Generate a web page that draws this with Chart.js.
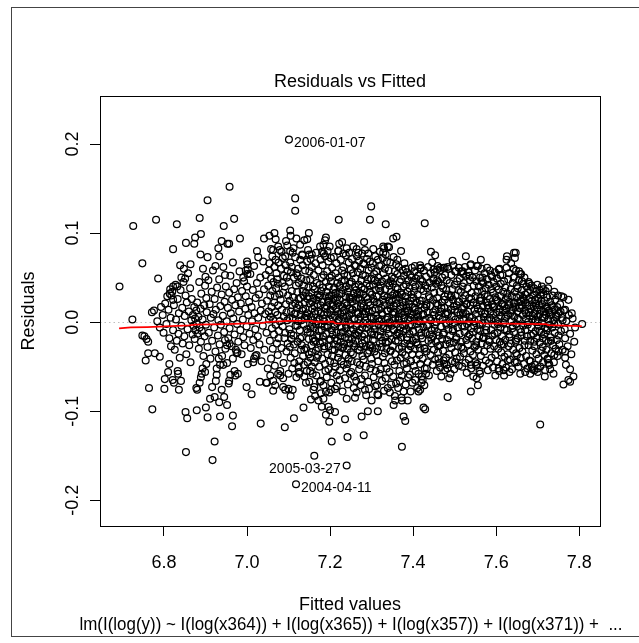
<!DOCTYPE html>
<html>
<head>
<meta charset="utf-8">
<script src="https://cdn.jsdelivr.net/npm/chart.js@4.4.1/dist/chart.umd.min.js"></script>
<style>
  html, body { margin: 0; padding: 0; background: #fff; }
  #wrap { width: 639px; height: 643px; }
</style>
</head>
<body>
<div id="wrap"><canvas id="chart" width="639" height="643"></canvas></div>
<script>
// axis setup
const xTicks = [6.8, 7.0, 7.2, 7.4, 7.6, 7.8];
const yTicks = [-0.2, -0.1, 0.0, 0.1, 0.2];
const xRange = [6.646, 7.85];
const yRange = [-0.229, 0.254];

// labelled observations
const labelNames = ["2006-01-07", "2005-03-27", "2004-04-11"];
const labelFitted = [7.101, 7.240, 7.118];
const labelResid = [0.205, -0.161, -0.182];
const labelSide = ["right", "left", "right"];

// red smoother
const lowessFitted = [6.692, 6.72, 6.76, 6.86, 6.875, 6.95, 7.04, 7.045, 7.10, 7.155, 7.16, 7.208, 7.212, 7.28, 7.39, 7.40, 7.56, 7.565, 7.72, 7.726, 7.806];
const lowessResid = [-0.007, -0.006, -0.0055, -0.0037, -0.0027, -0.0022, -0.0008, 0.0, 0.0015, 0.0015, 0.0004, 0.0004, -0.0015, -0.002, -0.0015, 0.0004, 0.0004, -0.0015, -0.0022, -0.0034, -0.0045];

// [fitted, residual] pairs
const upperPoints = [
[6.693,0.040],[6.726,0.108],[6.748,0.066],[6.781,0.115],[6.786,0.049],[6.724,0.003],[6.822,0.082],[6.831,0.110],[6.853,0.089],[6.873,0.088],[6.875,0.095],[6.886,0.117],[6.889,0.099],[6.905,0.137],[6.958,0.152],[6.944,0.108],[6.969,0.116],[6.983,0.094],[6.939,0.091],[6.953,0.088],[6.957,0.088],[7.041,0.094],[6.864,0.065],[6.888,0.076],[6.905,0.073],[6.839,0.064],[6.848,0.060],[6.931,0.083],[6.933,0.074],[6.924,0.063],[6.966,0.067],[6.900,0.051],[6.947,0.053],[6.842,0.050],[6.851,0.049],[7.024,0.080],[7.027,0.073],[7.000,0.068],[7.001,0.065],[7.002,0.059],[7.001,0.054],[6.997,0.058],[6.991,0.050],[6.815,0.037],[6.822,0.040],[6.832,0.040],[6.814,0.032],[6.818,0.030],[6.822,0.025],
[7.116,0.139],[7.116,0.125],[7.104,0.103],[7.221,0.115],[7.299,0.130],[7.296,0.115],[7.334,0.110],[7.360,0.096],[7.428,0.111],[7.066,0.100],[7.054,0.097],[7.069,0.093],[7.105,0.097],[7.149,0.100],[7.145,0.093],[7.138,0.092],[7.119,0.094],[7.094,0.091],[7.075,0.085],[7.058,0.082],[7.063,0.081],[7.104,0.080],[7.190,0.095],[7.188,0.092],[7.199,0.085],[7.229,0.090],[7.181,0.079],[7.185,0.077],[7.220,0.080],[7.232,0.077],[7.282,0.090],[7.264,0.082],[7.268,0.078],[7.352,0.094],[7.339,0.085],[7.330,0.083],[7.328,0.078],[7.371,0.080],[7.417,0.064],[7.419,0.061],[7.443,0.079],[7.453,0.075],[7.202,0.072],[7.133,0.075],[7.150,0.076],[7.156,0.076],
[7.495,0.069],[7.527,0.074],[7.538,0.064],[7.553,0.063],[7.563,0.070],[7.578,0.061],[7.606,0.059],[7.610,0.053],[7.588,0.053],[7.567,0.050],[7.565,0.046],[7.625,0.070],[7.626,0.074],[7.643,0.078],[7.647,0.078],[7.645,0.072],[7.642,0.060],[7.655,0.057],[7.658,0.054],[7.662,0.046],[7.680,0.043],[7.727,0.047],[7.714,0.037],[7.708,0.033],[7.740,0.034],[7.749,0.030],[7.757,0.029],[7.762,0.028],[7.774,0.025],[7.766,0.014],[7.782,0.010],[7.449,0.059],[7.458,0.059],[7.465,0.061],[7.476,0.061],[7.483,0.062],[7.501,0.057],[7.519,0.057],[7.521,0.054],[7.536,0.052],[7.449,0.049],[7.458,0.047],[7.807,-0.002]
];

const lowerPoints = [
[6.748,-0.015],[6.753,-0.016],[6.758,-0.019],[6.762,-0.022],[6.756,-0.043],[6.764,-0.074],[6.772,-0.098],[6.762,-0.035],[6.778,-0.035],[6.790,-0.039],[6.801,-0.075],[6.802,-0.064],[6.810,-0.056],[6.813,-0.047],[6.821,-0.065],[6.824,-0.068],[6.834,-0.058],[6.836,-0.076],[6.841,-0.066],[6.833,-0.055],[6.852,-0.101],[6.856,-0.108],[6.853,-0.146],[6.879,-0.099],[6.901,-0.096],[6.905,-0.107],[6.878,-0.074],[6.880,-0.076],[6.886,-0.068],[6.889,-0.062],[6.891,-0.058],[6.893,-0.052],[6.899,-0.056],[6.902,-0.047],
[6.911,-0.086],[6.922,-0.084],[6.933,-0.090],[6.939,-0.076],[6.945,-0.084],[6.952,-0.093],[6.916,-0.073],[6.925,-0.066],[6.927,-0.059],[6.935,-0.048],[6.943,-0.048],[6.932,-0.041],[6.922,-0.134],[6.917,-0.155],[6.935,-0.106],[6.966,-0.105],[6.964,-0.117],[6.956,-0.069],[6.957,-0.066],[6.960,-0.059],[6.970,-0.055],[6.978,-0.058],[6.972,-0.060],[6.999,-0.073],[7.011,-0.081],[7.033,-0.114],[7.031,-0.067],[7.046,-0.068],[7.015,-0.045],[7.017,-0.041],[7.020,-0.038],[6.975,-0.035],[6.977,-0.034],[6.952,-0.026],[6.958,-0.024],[6.947,-0.020],
[7.162,-0.150],[7.204,-0.134],[7.242,-0.129],[7.281,-0.127],[7.373,-0.140],[7.091,-0.118],[7.113,-0.108],[7.136,-0.096],[7.198,-0.112],[7.190,-0.104],[7.212,-0.101],[7.236,-0.109],[7.276,-0.106],[7.291,-0.100],[7.315,-0.100],[7.377,-0.106],[7.381,-0.111],[7.425,-0.096],[7.429,-0.098],[7.063,-0.077],[7.087,-0.073],[7.105,-0.083],[7.110,-0.076],[7.154,-0.087],[7.164,-0.083],[7.172,-0.088],[7.184,-0.086],[7.180,-0.095],[7.196,-0.095],[7.200,-0.099],[7.142,-0.068],[7.150,-0.067],[7.160,-0.076],[7.178,-0.080],[7.190,-0.078],[7.212,-0.075],[7.240,-0.086],[7.260,-0.085],[7.284,-0.076],[7.300,-0.088],[7.316,-0.082],[7.353,-0.093],[7.357,-0.088],[7.373,-0.088],[7.417,-0.076],[7.427,-0.071],[7.423,-0.065],[7.421,-0.061],[7.431,-0.058],[7.433,-0.052],[7.413,-0.078],[7.048,-0.068],[7.068,-0.071],[7.080,-0.060],[7.075,-0.058],[7.092,-0.076],[7.100,-0.075],[7.126,-0.058],[7.124,-0.050],[7.152,-0.055],[7.156,-0.050],[7.176,-0.067],
[7.706,-0.115],[7.483,-0.084],[7.539,-0.078],[7.556,-0.071],[7.553,-0.063],[7.561,-0.058],[7.552,-0.049],[7.539,-0.048],[7.487,-0.063],[7.477,-0.054],[7.465,-0.051],[7.481,-0.048],[7.473,-0.043],[7.461,-0.041],[7.501,-0.045],[7.598,-0.060],[7.606,-0.052],[7.619,-0.060],[7.618,-0.054],[7.632,-0.056],[7.628,-0.043],[7.650,-0.045],[7.648,-0.035],[7.658,-0.058],[7.670,-0.056],[7.682,-0.058],[7.692,-0.054],[7.700,-0.052],[7.686,-0.050],[7.717,-0.061],[7.730,-0.053],[7.738,-0.058],[7.726,-0.046],[7.724,-0.041],[7.740,-0.037],[7.750,-0.033],[7.766,-0.033],[7.766,-0.040],[7.768,-0.048],[7.778,-0.053],[7.786,-0.061],[7.778,-0.067],[7.762,-0.070],[7.774,-0.065]
];

const leftPoints = [
[6.771,0.011],[6.776,0.013],[6.784,0.001],[6.790,-0.006],[6.793,0.017],[6.797,0.008],[6.799,-0.012],[6.803,0.021],[6.806,-0.002],[6.808,0.029],[6.811,0.014],[6.813,-0.018],[6.816,0.005],[6.817,-0.027],[6.820,0.034],[6.822,-0.009],[6.824,0.019],[6.826,-0.031],[6.828,0.042],[6.829,0.003],[6.831,-0.021],[6.833,0.026],[6.835,-0.013],[6.836,0.010],[6.838,-0.040],[6.840,0.036],[6.842,-0.004],[6.844,0.016],[6.845,-0.024],[6.847,0.045],[6.849,-0.016],[6.850,0.007],[6.852,0.030],[6.854,-0.036],[6.855,0.022],[6.857,-0.008],[6.858,0.055],[6.860,0.012],[6.861,-0.026],[6.863,0.038],[6.864,-0.045],[6.866,0.002],[6.867,0.026],[6.869,-0.014],[6.870,0.008],[6.871,-0.004],[6.873,0.017],[6.874,-0.019],[6.875,0.004],[6.876,-0.009],[6.878,0.013],[6.879,-0.002],[6.880,0.022],[6.881,-0.013],[6.883,0.006],[6.884,-0.030],[6.885,0.045],[6.886,-0.006],[6.888,0.015],[6.889,-0.022],[6.890,0.032],[6.891,-0.010],[6.893,0.003],[6.894,0.060],[6.895,-0.038],[6.897,0.019],[6.898,-0.016],[6.899,0.041],[6.901,-0.003],[6.902,0.027],
[6.903,0.011],[6.905,-0.028],[6.907,0.047],[6.908,-0.012],[6.910,0.020],[6.912,-0.041],[6.913,0.005],[6.915,0.034],[6.916,-0.021],[6.918,0.058],[6.919,0.009],[6.921,-0.006],[6.922,0.026],[6.924,-0.033],[6.925,0.014],[6.927,-0.052],[6.928,0.039],[6.930,-0.015],[6.931,0.002],[6.933,0.048],[6.934,-0.025],[6.936,0.018],[6.937,-0.003],[6.939,0.031],[6.940,-0.038],[6.942,0.007],[6.943,0.062],[6.945,-0.011],[6.946,0.023],[6.948,-0.030],[6.949,0.040],[6.951,0.001],[6.952,-0.046],[6.954,0.016],[6.955,-0.018],[6.957,0.033],[6.958,-0.007],[6.960,0.052],[6.961,0.010],[6.963,-0.027],[6.964,0.025],[6.966,-0.041],[6.967,0.004],[6.969,0.037],[6.970,-0.014],[6.972,0.019],[6.973,-0.031],[6.975,0.044],[6.976,-0.002],[6.978,0.028],[6.979,-0.022],[6.981,0.012],[6.982,0.057],[6.984,-0.009],[6.985,0.021],[6.987,-0.036],[6.988,0.035],[6.990,0.003],[6.991,-0.017],[6.993,0.046],[6.994,-0.026],[6.996,0.015],[6.997,0.029],[6.999,-0.005],[7.000,0.040],[7.002,-0.047],[7.003,0.008],[7.005,0.023],[7.006,-0.013],[7.008,0.054],[7.009,-0.029],[7.011,0.017],[7.012,0.001],[7.014,0.036],[7.015,-0.020],[7.017,0.063],[7.018,0.010],[7.020,-0.008],[7.021,0.027],[7.023,-0.037],[7.024,0.044],[7.026,-0.016],[7.027,0.005],[7.029,0.031],[7.030,-0.025],[7.032,0.050],[7.033,0.013],[7.035,-0.044],[7.036,0.021],[7.038,-0.004],[7.039,0.068],[7.041,0.037],[7.042,-0.031],[7.044,0.009],[7.045,0.053],[7.047,-0.012],[7.048,0.024],[7.050,-0.052],[7.051,0.041],[7.053,0.003]
];

const risePoints = [
[7.054,0.066],[7.055,-0.021],[7.056,0.030],[7.057,0.006],[7.058,-0.041],[7.058,0.049],[7.059,0.017],[7.060,-0.007],[7.061,0.074],[7.056,-0.060],[7.052,0.012],[7.053,0.058],
[7.061,0.035],[7.062,-0.030],[7.063,0.003],[7.064,0.045],[7.065,-0.014],[7.066,0.062],[7.066,0.022],[7.067,-0.049],[7.068,0.011],[7.069,0.070],[7.069,-0.003],[7.070,0.038],[7.063,-0.066],[7.067,0.029],
[7.071,0.055],[7.072,-0.024],[7.073,0.008],[7.074,0.043],[7.074,-0.037],[7.075,0.019],[7.076,0.067],[7.077,-0.010],[7.078,0.031],[7.079,0.001],[7.079,0.081],[7.080,-0.055],[7.072,0.048],[7.076,-0.018],
[7.081,0.025],[7.082,0.060],[7.083,-0.029],[7.084,0.014],[7.085,0.044],[7.086,-0.005],[7.086,0.072],[7.087,0.033],[7.088,-0.046],[7.089,0.052],[7.089,0.006],[7.090,-0.018],[7.083,0.079],[7.087,-0.063],
[7.091,0.040],[7.092,-0.012],[7.093,0.064],[7.094,0.020],[7.095,-0.033],[7.096,0.050],[7.097,0.002],[7.097,0.086],[7.098,-0.024],[7.099,0.030],[7.100,-0.058],[7.092,0.074],[7.095,0.011],[7.098,0.058],
[7.101,0.045],[7.102,-0.008],[7.103,0.024],[7.104,0.067],[7.105,-0.040],[7.106,0.012],[7.106,0.056],[7.107,-0.019],[7.108,0.035],[7.109,-0.052],[7.110,0.078],[7.110,0.004],[7.103,-0.028],[7.108,0.062],
[7.111,0.028],[7.112,-0.015],[7.113,0.050],[7.114,0.009],[7.115,-0.035],[7.116,0.073],[7.116,0.021],[7.117,-0.004],[7.118,0.041],[7.119,-0.062],[7.120,0.016],[7.112,0.083],[7.114,-0.046],[7.119,0.055],
[7.121,0.034],[7.122,-0.022],[7.123,0.060],[7.124,0.001],[7.125,0.044],[7.126,-0.044],[7.126,0.019],[7.127,-0.009],[7.128,0.070],[7.129,0.027],[7.130,-0.031],[7.122,0.052],[7.125,-0.056],[7.129,0.008],[7.128,0.087],
[7.131,0.049],[7.132,-0.017],[7.133,0.013],[7.134,0.064],[7.135,-0.038],[7.136,0.030],[7.136,-0.003],[7.137,0.041],[7.138,-0.061],[7.139,0.022],[7.140,0.058],[7.132,-0.026],[7.134,0.035],[7.137,-0.048],[7.139,0.005],[7.133,0.076],
[7.141,0.015],[7.142,-0.029],[7.143,0.047],[7.144,-0.008],[7.145,0.068],[7.146,0.026],[7.146,-0.045],[7.147,0.004],[7.148,0.039],[7.149,-0.019],[7.150,0.057],[7.142,0.033],[7.144,-0.055],[7.147,0.081],[7.149,-0.036],[7.145,0.010]
];

const corePoints = [
[7.151,0.021],[7.152,-0.012],[7.152,0.048],[7.153,-0.040],[7.154,0.006],[7.155,0.033],[7.155,-0.026],[7.156,0.062],[7.157,-0.003],[7.157,0.015],[7.158,-0.058],[7.159,0.040],[7.159,-0.018],[7.160,0.027],[7.153,0.071],[7.156,-0.034],[7.158,0.002],
[7.161,0.053],[7.161,-0.007],[7.162,0.018],[7.163,-0.045],[7.163,0.037],[7.164,-0.021],[7.165,0.009],[7.165,0.066],[7.166,-0.032],[7.167,0.025],[7.167,-0.060],[7.168,0.044],[7.169,0.001],[7.169,-0.015],[7.170,0.031],[7.162,-0.073],[7.166,0.078],[7.168,-0.040],
[7.171,0.012],[7.171,-0.037],[7.172,0.058],[7.173,-0.010],[7.173,0.028],[7.174,-0.050],[7.175,0.042],[7.175,0.004],[7.176,-0.024],[7.177,0.070],[7.177,0.019],[7.178,-0.066],[7.179,0.035],[7.179,-0.002],[7.180,0.050],[7.172,-0.029],[7.176,0.085],[7.178,0.010],
[7.181,-0.041],[7.181,0.023],[7.182,0.064],[7.183,-0.016],[7.183,0.039],[7.184,-0.071],[7.185,0.008],[7.185,0.053],[7.186,-0.030],[7.187,0.016],[7.187,-0.005],[7.188,0.074],[7.189,-0.055],[7.189,0.029],[7.190,0.045],[7.182,-0.022],[7.186,0.001],[7.188,-0.047],[7.184,0.087],
[7.191,-0.013],[7.191,0.034],[7.192,-0.062],[7.193,0.011],[7.193,0.057],[7.194,-0.036],[7.195,0.024],[7.195,-0.004],[7.196,0.068],[7.197,-0.027],[7.197,0.040],[7.198,-0.079],[7.199,0.003],[7.199,0.050],[7.200,-0.044],[7.192,0.018],[7.196,-0.053],[7.198,0.029],[7.194,0.080],
[7.201,0.014],[7.201,-0.020],[7.202,0.046],[7.203,-0.068],[7.203,0.030],[7.204,-0.009],[7.205,0.061],[7.205,-0.038],[7.206,0.020],[7.207,-0.057],[7.207,0.005],[7.208,0.037],[7.209,-0.025],[7.209,0.073],[7.210,-0.003],[7.202,-0.076],[7.204,0.052],[7.206,-0.014],[7.208,0.026],[7.210,-0.046],
[7.211,0.039],[7.211,-0.031],[7.212,0.007],[7.213,0.055],[7.213,-0.050],[7.214,0.016],[7.215,-0.012],[7.215,0.066],[7.216,-0.072],[7.217,0.028],[7.217,-0.001],[7.218,0.044],[7.219,-0.040],[7.219,0.012],[7.220,0.080],[7.212,-0.018],[7.214,0.033],[7.216,-0.060],[7.218,0.021],[7.220,-0.027],
[7.221,0.003],[7.221,0.050],[7.222,-0.035],[7.223,0.025],[7.223,-0.065],[7.224,0.041],[7.225,-0.016],[7.225,0.009],[7.226,0.070],[7.227,-0.044],[7.227,0.032],[7.228,-0.006],[7.229,0.058],[7.229,-0.029],[7.230,0.017],[7.222,0.088],[7.224,-0.054],[7.226,-0.022],[7.228,0.046],[7.230,-0.078],
[7.231,0.036],[7.231,-0.011],[7.232,0.062],[7.233,-0.048],[7.233,0.013],[7.234,-0.025],[7.235,0.047],[7.235,0.001],[7.236,-0.063],[7.237,0.029],[7.237,-0.037],[7.238,0.075],[7.239,-0.007],[7.239,0.022],[7.240,-0.052],[7.232,0.006],[7.234,0.054],[7.236,-0.017],[7.238,0.040],[7.240,0.083],
[7.241,-0.030],[7.241,0.019],[7.242,0.052],[7.243,-0.070],[7.243,0.034],[7.244,-0.013],[7.245,0.067],[7.245,-0.041],[7.246,0.008],[7.247,-0.024],[7.247,0.043],[7.248,-0.058],[7.249,0.026],[7.249,-0.002],[7.250,0.059],[7.242,-0.047],[7.244,0.002],[7.246,0.078],[7.248,0.015],[7.250,-0.034],[7.245,0.038],
[7.251,0.010],[7.251,-0.056],[7.252,0.045],[7.253,-0.019],[7.253,0.071],[7.254,0.023],[7.255,-0.036],[7.255,0.055],[7.256,-0.008],[7.257,0.032],[7.257,-0.074],[7.258,0.004],[7.259,0.064],[7.259,-0.027],[7.260,0.040],[7.252,-0.044],[7.254,0.014],[7.256,0.085],[7.258,-0.061],[7.260,-0.013],[7.255,0.027],
[7.261,0.049],[7.261,-0.021],[7.262,0.017],[7.263,-0.066],[7.263,0.036],[7.264,-0.004],[7.265,0.074],[7.265,-0.045],[7.266,0.011],[7.267,0.056],[7.267,-0.031],[7.268,0.027],[7.269,-0.012],[7.269,0.042],[7.270,-0.053],[7.262,0.063],[7.264,-0.079],[7.266,0.031],[7.268,0.003],[7.270,0.069],
[7.271,-0.009],[7.271,0.033],[7.272,-0.048],[7.273,0.060],[7.273,0.006],[7.274,-0.028],[7.275,0.047],[7.275,-0.064],[7.276,0.021],[7.277,-0.016],[7.277,0.077],[7.278,-0.038],[7.279,0.012],[7.279,0.053],[7.280,-0.001],[7.272,0.026],[7.274,-0.071],[7.276,0.039],[7.278,-0.024],[7.280,0.066],
[7.281,0.018],[7.281,-0.042],[7.282,0.065],[7.283,-0.014],[7.283,0.037],[7.284,-0.060],[7.285,0.002],[7.285,0.052],[7.286,-0.027],[7.287,0.028],[7.287,-0.082],[7.288,0.043],[7.289,-0.006],[7.289,0.071],[7.290,-0.035],[7.282,0.009],[7.284,0.081],[7.286,-0.050],[7.288,0.015],[7.290,0.048],
[7.291,-0.019],[7.291,0.026],[7.292,-0.067],[7.293,0.058],[7.293,0.011],[7.294,-0.032],[7.295,0.040],[7.295,-0.003],[7.296,0.068],[7.297,-0.052],[7.297,0.019],[7.298,-0.011],[7.299,0.049],[7.299,-0.041],[7.300,0.005],[7.292,0.077],[7.294,-0.075],[7.296,0.034],[7.298,-0.026],[7.300,0.061],
[7.301,0.031],[7.301,-0.047],[7.302,0.013],[7.303,0.066],[7.303,-0.020],[7.304,0.042],[7.305,-0.062],[7.305,0.004],[7.306,0.054],[7.307,-0.033],[7.307,0.023],[7.308,-0.008],[7.309,0.074],[7.309,-0.072],[7.310,0.036],[7.302,-0.029],[7.304,0.082],[7.306,-0.014],[7.308,0.047],[7.310,-0.055],
[7.311,0.007],[7.311,0.057],[7.312,-0.037],[7.313,0.022],[7.313,-0.071],[7.314,0.045],[7.315,-0.015],[7.315,0.070],[7.316,-0.044],[7.317,0.014],[7.317,-0.003],[7.318,0.038],[7.319,-0.058],[7.319,0.063],[7.320,-0.024],[7.312,0.029],[7.314,-0.081],[7.316,0.050],[7.318,0.001],[7.320,0.079],
[7.321,-0.010],[7.321,0.035],[7.322,-0.053],[7.323,0.064],[7.323,0.016],[7.324,-0.028],[7.325,0.046],[7.325,-0.066],[7.326,0.008],[7.327,0.072],[7.327,-0.039],[7.328,0.025],[7.329,-0.005],[7.329,0.055],[7.330,-0.077],[7.322,0.041],[7.324,0.003],[7.326,-0.021],[7.328,0.085],[7.330,0.030],
[7.331,-0.046],[7.331,0.019],[7.332,0.060],[7.333,-0.017],[7.333,0.037],[7.334,-0.063],[7.335,0.003],[7.335,0.049],[7.336,-0.030],[7.337,0.068],[7.337,-0.008],[7.338,0.028],[7.339,-0.074],[7.339,0.013],[7.340,0.044],[7.332,-0.035],[7.334,0.076],[7.336,-0.052],[7.338,0.005],[7.340,-0.022],
[7.341,0.058],[7.341,-0.013],[7.342,0.024],[7.343,-0.056],[7.343,0.041],[7.344,0.000],[7.345,-0.033],[7.345,0.067],[7.346,0.015],[7.347,-0.070],[7.347,0.034],[7.348,-0.019],[7.349,0.051],[7.349,-0.044],[7.350,0.009],[7.342,0.084],[7.344,-0.079],[7.346,0.046],[7.348,-0.004],[7.350,0.030],
[7.351,-0.027],[7.351,0.043],[7.352,-0.061],[7.353,0.018],[7.353,0.073],[7.354,-0.009],[7.355,0.032],[7.355,-0.048],[7.356,0.057],[7.357,0.004],[7.357,-0.036],[7.358,0.026],[7.359,-0.069],[7.359,0.065],[7.360,-0.015],[7.352,0.011],[7.354,0.049],[7.356,-0.083],[7.358,0.039],[7.360,-0.002],
[7.361,0.021],[7.361,-0.043],[7.362,0.054],[7.363,-0.012],[7.363,0.037],[7.364,-0.074],[7.365,0.006],[7.365,0.062],[7.366,-0.030],[7.367,0.028],[7.367,-0.055],[7.368,0.045],[7.369,-0.006],[7.369,0.015],[7.370,-0.040],[7.362,0.070],[7.364,-0.021],[7.366,0.002],[7.368,-0.066],[7.370,0.033],
[7.371,0.048],[7.371,-0.017],[7.372,0.010],[7.373,-0.060],[7.373,0.031],[7.374,-0.034],[7.375,0.058],[7.375,-0.003],[7.376,0.019],[7.377,-0.078],[7.377,0.040],[7.378,-0.047],[7.379,0.005],[7.379,0.066],[7.380,-0.024],[7.372,-0.085],[7.374,0.023],[7.376,-0.010],[7.378,0.052],[7.380,0.012],
[7.381,-0.037],[7.381,0.029],[7.382,-0.070],[7.383,0.042],[7.383,-0.008],[7.384,0.016],[7.385,-0.052],[7.385,0.056],[7.386,-0.020],[7.387,0.034],[7.387,-0.088],[7.388,0.003],[7.389,0.047],[7.389,-0.031],[7.390,0.020],[7.382,0.060],[7.384,-0.046],[7.386,0.011],[7.388,-0.062],[7.390,-0.004],
[7.391,0.038],[7.391,-0.013],[7.392,-0.059],[7.393,0.024],[7.393,0.053],[7.394,-0.027],[7.395,0.008],[7.395,-0.044],[7.396,0.031],[7.397,-0.003],[7.397,0.061],[7.398,-0.068],[7.399,0.017],[7.399,-0.021],[7.400,0.045],[7.392,0.002],[7.394,-0.078],[7.396,0.050],[7.398,-0.036],
[7.401,-0.011],[7.401,0.027],[7.402,-0.049],[7.403,0.057],[7.403,0.004],[7.404,-0.030],[7.405,0.040],[7.405,-0.065],[7.406,0.014],[7.407,-0.019],[7.407,0.049],[7.408,-0.042],[7.409,0.022],[7.409,-0.002],[7.410,-0.074],[7.402,0.035],[7.404,0.063],[7.406,-0.055],[7.408,0.009],
[7.411,0.031],[7.411,-0.025],[7.412,0.052],[7.413,-0.058],[7.413,0.012],[7.414,-0.008],[7.415,0.042],[7.415,-0.037],[7.416,0.001],[7.417,0.060],[7.417,-0.047],[7.418,0.020],[7.419,-0.015],[7.419,0.037],[7.420,-0.068],[7.412,0.006],[7.416,-0.029],[7.418,0.048]
];

// extra observations packed near the zero line
const centrePoints = [
[7.102,0.004],[7.106,-0.013],[7.109,0.019],[7.113,-0.025],[7.117,0.010],[7.121,-0.004],[7.124,0.026],[7.128,-0.018],[7.131,0.002],[7.135,0.015],[7.138,-0.031],[7.142,0.007],[7.146,-0.011],[7.149,0.029],
[7.153,-0.007],[7.157,0.023],[7.160,-0.022],[7.163,0.012],[7.166,-0.002],[7.170,0.020],[7.173,-0.016],[7.176,0.030],[7.180,-0.009],[7.183,0.004],[7.186,-0.027],[7.190,0.015],[7.193,-0.006],[7.196,0.027],[7.199,-0.019],
[7.202,0.008],[7.205,-0.031],[7.208,0.018],[7.211,-0.005],[7.214,0.024],[7.217,-0.021],[7.220,0.001],[7.223,0.032],[7.226,-0.012],[7.229,0.011],[7.232,-0.028],[7.235,0.021],[7.238,-0.003],[7.241,0.006],[7.244,-0.019],[7.247,0.028],[7.250,-0.010],
[7.253,0.014],[7.256,-0.024],[7.259,0.003],[7.262,0.025],[7.265,-0.015],[7.268,0.009],[7.271,-0.032],[7.274,0.017],[7.277,-0.006],[7.280,0.031],[7.283,-0.020],[7.286,0.012],[7.289,-0.001],[7.292,0.022],[7.295,-0.026],[7.298,0.006],
[7.301,-0.014],[7.304,0.026],[7.307,-0.004],[7.310,0.015],[7.313,-0.029],[7.316,0.004],[7.319,0.021],[7.322,-0.017],[7.325,0.010],[7.328,-0.007],[7.331,0.029],[7.334,-0.023],[7.337,0.013],[7.340,-0.001],[7.343,0.019],[7.346,-0.032],[7.349,0.024],
[7.352,-0.008],[7.355,0.011],[7.358,-0.021],[7.361,0.031],[7.364,0.003],[7.367,-0.013],[7.370,0.018],[7.373,-0.028],[7.376,0.008],[7.379,-0.004],[7.382,0.023],[7.385,-0.017],[7.388,0.013],[7.391,-0.025],[7.394,0.005],[7.397,0.027],[7.400,-0.010],
[7.404,0.016],[7.408,-0.023],[7.412,0.001],[7.416,0.024],[7.420,-0.012],[7.424,0.008],[7.428,-0.030],[7.432,0.018],[7.436,-0.003],[7.440,0.027],[7.444,-0.019],[7.448,0.011],[7.452,-0.007],[7.456,0.021],[7.460,-0.027],
[7.464,0.004],[7.468,0.016],[7.472,-0.014],[7.476,0.025],[7.480,-0.001],[7.484,0.009],[7.488,-0.024],[7.492,0.030],[7.496,-0.008],[7.500,0.014],[7.504,-0.019],[7.508,0.023],[7.512,0.002],[7.516,-0.028],[7.520,0.010],
[7.524,-0.005],[7.528,0.020],[7.532,-0.016],[7.536,0.006],[7.540,0.026],[7.544,-0.011],[7.548,0.001],[7.552,-0.026],[7.556,0.015],[7.560,-0.003],[7.564,0.024],[7.568,-0.018],[7.572,0.009],[7.576,-0.009],[7.580,0.019],
[7.584,-0.022],[7.588,0.003],[7.592,0.017],[7.596,-0.013],[7.600,0.025],[7.604,-0.002],[7.608,0.011],[7.612,-0.025],[7.616,0.020],[7.620,-0.008],[7.624,0.006],[7.628,0.028],[7.632,-0.017],[7.636,0.013],[7.640,-0.004],
[7.644,0.022],[7.648,-0.020],[7.652,0.004],[7.656,0.016],[7.660,-0.011],[7.664,0.027],[7.668,-0.026],[7.672,0.010],[7.676,-0.003],[7.680,0.019],[7.684,-0.015],[7.688,0.007],[7.692,-0.022],[7.696,0.021],[7.700,0.000],
[7.704,-0.010],[7.708,0.024],[7.712,-0.018],[7.716,0.005],[7.720,0.015],[7.724,-0.007],[7.728,0.011],[7.732,-0.021],[7.736,0.017],[7.740,-0.002],[7.745,0.008],[7.750,-0.015],[7.755,0.012],[7.760,0.002],[7.765,-0.008]
];

const rightPoints = [
[7.421,0.024],[7.422,-0.018],[7.422,0.046],[7.423,-0.041],[7.424,0.009],[7.425,0.035],[7.425,-0.006],[7.426,0.058],[7.427,-0.029],[7.428,0.016],[7.428,-0.052],[7.429,0.041],[7.430,-0.012],[7.430,0.003],
[7.431,0.051],[7.432,-0.033],[7.432,0.020],[7.433,-0.004],[7.434,0.038],[7.435,-0.045],[7.435,0.011],[7.436,0.062],[7.437,-0.021],[7.438,0.029],[7.438,-0.060],[7.439,0.005],[7.440,0.044],[7.440,-0.014],
[7.441,0.018],[7.442,-0.037],[7.442,0.055],[7.443,0.002],[7.444,-0.024],[7.445,0.039],[7.445,-0.009],[7.446,0.067],[7.447,-0.048],[7.448,0.025],[7.448,-0.016],[7.449,0.047],[7.450,0.008],[7.450,-0.031],
[7.451,0.033],[7.452,-0.003],[7.452,0.056],[7.453,-0.042],[7.454,0.014],[7.455,-0.022],[7.455,0.043],[7.456,0.000],[7.457,-0.055],[7.458,0.027],[7.458,-0.011],[7.459,0.063],[7.460,0.019],[7.460,-0.034],
[7.461,0.045],[7.462,-0.015],[7.462,0.007],[7.463,-0.046],[7.464,0.034],[7.465,-0.026],[7.465,0.058],[7.466,0.012],[7.467,-0.005],[7.468,0.041],[7.468,-0.061],[7.469,0.022],[7.470,-0.019],[7.470,0.050],
[7.471,0.003],[7.472,-0.032],[7.472,0.038],[7.473,0.061],[7.474,-0.012],[7.475,0.016],[7.475,-0.047],[7.476,0.029],[7.477,0.053],[7.478,-0.025],[7.478,0.009],[7.479,-0.040],[7.480,0.036],[7.480,-0.003],
[7.481,0.047],[7.482,-0.020],[7.482,0.011],[7.483,-0.052],[7.484,0.031],[7.485,0.060],[7.485,-0.008],[7.486,0.022],[7.487,-0.036],[7.488,0.044],[7.488,0.001],[7.489,-0.015],[7.490,0.028],[7.490,-0.058],
[7.491,0.014],[7.492,0.053],[7.492,-0.029],[7.493,0.006],[7.494,-0.044],[7.495,0.037],[7.495,-0.010],[7.496,0.025],[7.497,0.064],[7.498,-0.023],[7.498,0.018],[7.499,-0.053],[7.500,0.042],[7.500,-0.001],
[7.501,-0.034],[7.502,0.030],[7.502,0.003],[7.503,0.057],[7.504,-0.017],[7.505,0.019],[7.505,-0.041],[7.506,0.046],[7.507,-0.006],[7.508,0.011],[7.508,-0.027],[7.509,0.036],[7.510,-0.049],[7.510,0.061],
[7.511,0.023],[7.512,-0.013],[7.512,0.049],[7.513,-0.039],[7.514,0.008],[7.515,0.034],[7.515,-0.022],[7.516,0.057],[7.517,0.015],[7.518,-0.050],[7.518,-0.004],[7.519,0.040],[7.520,-0.030],[7.520,0.026],
[7.521,0.004],[7.522,0.044],[7.522,-0.035],[7.523,0.017],[7.524,-0.011],[7.525,0.062],[7.525,0.030],[7.526,-0.046],[7.527,0.009],[7.528,-0.020],[7.528,0.052],[7.529,-0.057],[7.530,0.021],[7.530,-0.002],
[7.531,0.038],[7.532,-0.025],[7.532,0.012],[7.533,0.056],[7.534,-0.042],[7.535,0.001],[7.535,0.027],[7.536,-0.014],[7.537,0.047],[7.538,-0.033],[7.538,0.019],[7.539,0.065],[7.540,-0.007],[7.540,-0.052],
[7.541,0.033],[7.542,-0.018],[7.542,0.005],[7.543,0.050],[7.544,-0.037],[7.545,0.022],[7.545,-0.061],[7.546,0.041],[7.547,-0.004],[7.548,0.014],[7.548,-0.028],[7.549,0.058],[7.550,0.029],[7.550,-0.045],
[7.551,0.009],[7.552,0.046],[7.552,-0.022],[7.553,0.019],[7.554,-0.047],[7.555,0.034],[7.555,-0.008],[7.556,0.063],[7.557,-0.031],[7.558,0.003],[7.558,0.040],[7.559,-0.016],[7.560,0.024],[7.560,-0.055],
[7.561,0.050],[7.562,-0.010],[7.562,0.027],[7.563,-0.038],[7.564,0.012],[7.565,0.060],[7.565,-0.024],[7.566,0.035],[7.567,-0.001],[7.568,-0.049],[7.568,0.018],[7.569,0.044],[7.570,-0.017],[7.570,0.006],
[7.571,-0.033],[7.572,0.031],[7.572,0.055],[7.573,-0.012],[7.574,0.010],[7.575,-0.043],[7.575,0.038],[7.576,-0.005],[7.577,0.022],[7.578,-0.026],[7.578,0.048],[7.579,0.002],[7.580,-0.054],[7.580,0.029],
[7.581,0.016],[7.582,-0.020],[7.582,0.042],[7.583,-0.046],[7.584,0.005],[7.585,0.058],[7.585,0.026],[7.586,-0.030],[7.587,0.012],[7.588,-0.009],[7.588,0.037],[7.589,-0.040],[7.590,0.020],[7.590,0.051],
[7.591,-0.015],[7.592,0.033],[7.592,-0.051],[7.593,0.008],[7.594,0.045],[7.595,-0.027],[7.595,0.017],[7.596,-0.003],[7.597,0.056],[7.598,-0.037],[7.598,0.028],[7.599,0.002],[7.600,-0.020],[7.600,0.040]
];

const farRightPoints = [
[7.601,0.011],[7.602,-0.044],[7.602,0.049],[7.603,-0.012],[7.604,0.024],[7.605,0.000],[7.605,-0.030],[7.606,0.037],[7.607,-0.055],[7.608,0.015],[7.608,0.060],[7.609,-0.022],[7.610,0.029],[7.610,-0.006],
[7.611,0.043],[7.612,-0.034],[7.612,0.007],[7.613,0.021],[7.614,-0.016],[7.615,0.053],[7.615,-0.047],[7.616,0.013],[7.617,0.034],[7.618,-0.025],[7.618,-0.001],[7.619,0.046],[7.620,-0.039],[7.620,0.018],
[7.621,0.004],[7.622,0.039],[7.622,-0.020],[7.623,0.026],[7.624,-0.051],[7.625,0.015],[7.625,0.061],[7.626,-0.009],[7.627,0.032],[7.628,-0.036],[7.628,0.008],[7.629,0.048],[7.630,-0.027],[7.630,0.019],
[7.631,0.055],[7.632,-0.014],[7.632,0.023],[7.633,-0.042],[7.634,0.010],[7.635,0.037],[7.635,-0.024],[7.636,0.066],[7.637,0.001],[7.638,-0.053],[7.638,0.029],[7.639,-0.007],[7.640,0.044],[7.640,0.014],
[7.641,-0.031],[7.642,0.021],[7.642,0.050],[7.643,-0.011],[7.644,0.006],[7.645,-0.045],[7.645,0.034],[7.646,0.017],[7.647,-0.022],[7.648,0.058],[7.648,-0.002],[7.649,0.028],[7.650,-0.037],[7.650,0.041],
[7.651,0.012],[7.652,-0.018],[7.652,0.038],[7.653,0.022],[7.654,-0.050],[7.655,0.003],[7.655,0.047],[7.656,-0.029],[7.657,0.016],[7.658,0.030],[7.658,-0.008],[7.659,-0.040],[7.660,0.024],[7.660,0.054],
[7.661,-0.015],[7.662,0.019],[7.662,0.036],[7.663,-0.033],[7.664,0.008],[7.665,0.043],[7.665,-0.004],[7.666,0.026],[7.667,-0.047],[7.668,0.013],[7.668,0.050],[7.669,-0.021],[7.670,0.031],[7.670,-0.009],
[7.671,0.022],[7.672,-0.038],[7.672,0.004],[7.673,0.040],[7.674,-0.016],[7.675,0.018],[7.675,-0.052],[7.676,0.033],[7.677,0.000],[7.678,-0.026],[7.678,0.045],[7.679,0.011],[7.680,-0.043],[7.680,0.027],
[7.681,0.007],[7.682,-0.021],[7.682,0.036],[7.683,-0.044],[7.684,0.015],[7.685,-0.006],[7.685,0.041],[7.686,0.024],[7.687,-0.032],[7.688,0.003],[7.688,-0.053],[7.689,0.030],[7.690,-0.013],[7.690,0.018],
[7.691,0.038],[7.692,-0.027],[7.692,0.010],[7.693,-0.048],[7.694,0.025],[7.695,-0.010],[7.695,0.002],[7.696,0.034],[7.697,-0.036],[7.698,0.016],[7.698,-0.018],[7.699,0.042],[7.700,-0.056],[7.700,0.006],
[7.701,0.027],[7.702,-0.004],[7.702,-0.041],[7.703,0.019],[7.704,0.036],[7.705,-0.023],[7.705,0.009],[7.706,-0.050],[7.707,0.030],[7.708,-0.012],[7.708,0.014],[7.709,-0.032],[7.710,0.040],[7.710,-0.001],
[7.711,0.020],[7.712,-0.028],[7.712,0.005],[7.713,-0.045],[7.714,0.031],[7.715,-0.014],[7.715,0.012],[7.716,-0.037],[7.717,0.024],[7.718,-0.006],[7.718,-0.054],[7.719,0.035],[7.720,-0.020],[7.720,0.008],
[7.721,-0.031],[7.722,0.017],[7.722,-0.009],[7.723,0.028],[7.724,-0.042],[7.725,0.003],[7.725,0.038],[7.726,-0.022],[7.727,0.013],[7.728,-0.048],[7.729,-0.003],[7.730,0.023],
[7.731,-0.017],[7.732,0.008],[7.733,-0.035],[7.734,0.019],[7.735,-0.006],[7.736,0.030],[7.737,-0.026],[7.738,0.002],[7.739,-0.045],[7.740,0.014],
[7.741,-0.012],[7.742,0.025],[7.743,-0.030],[7.744,0.006],[7.746,-0.020],[7.747,0.017],[7.748,-0.038],[7.749,-0.002],[7.750,0.010],
[7.752,-0.025],[7.754,0.020],[7.756,-0.010],[7.758,0.005],[7.760,-0.031],[7.763,0.013],[7.766,-0.018],[7.769,0.001],[7.772,-0.027],[7.775,0.008],[7.778,-0.013],[7.781,-0.036],[7.784,0.004],[7.788,-0.022],[7.790,-0.006]
];

const FONT = '"Liberation Sans", Arial, sans-serif';

const toXY = (pairs) => pairs.map(p => ({ x: p[0], y: p[1] }));
const allPoints = [].concat(
  toXY(leftPoints), toXY(risePoints), toXY(corePoints), toXY(centrePoints),
  toXY(rightPoints), toXY(farRightPoints), toXY(upperPoints), toXY(lowerPoints),
  labelFitted.map((f, i) => ({ x: f, y: labelResid[i] }))
);
const smoother = lowessFitted.map((f, i) => ({ x: f, y: lowessResid[i] }));

const rPlot = {
  id: 'rPlot',
  beforeDatasetsDraw(chart) {
    const { ctx, chartArea: a, scales } = chart;
    const y0 = Math.round(scales.y.getPixelForValue(0)) + 0.5;
    ctx.save();
    ctx.strokeStyle = '#bebebe';
    ctx.lineWidth = 1;
    ctx.setLineDash([1.5, 3]);
    ctx.beginPath();
    ctx.moveTo(a.left, y0);
    ctx.lineTo(a.right, y0);
    ctx.stroke();
    ctx.restore();
  },
  afterDraw(chart) {
    const { ctx, chartArea: a, scales } = chart;
    const xs = scales.x, ys = scales.y;
    ctx.save();
    // outer figure frame
    ctx.strokeStyle = '#444';
    ctx.lineWidth = 1;
    ctx.strokeRect(11.5, 7.5, 700, 629);
    // plot box
    ctx.strokeStyle = '#000';
    ctx.strokeRect(a.left + 0.5, a.top + 0.5, a.right - a.left, a.bottom - a.top);

    ctx.fillStyle = '#000';
    ctx.font = '18px ' + FONT;
    ctx.textAlign = 'center';
    ctx.textBaseline = 'middle';
    const mid = (a.left + a.right) / 2;

    ctx.fillText('Residuals vs Fitted', mid, 82);

    xTicks.forEach(v => {
      ctx.fillText(v.toFixed(1), xs.getPixelForValue(v), 563);
    });
    yTicks.forEach(v => {
      ctx.save();
      ctx.translate(73, ys.getPixelForValue(v));
      ctx.rotate(-Math.PI / 2);
      ctx.fillText(v.toFixed(1), 0, 0);
      ctx.restore();
    });

    ctx.fillText('Fitted values', mid, 605);
    ctx.fillText('lm(I(log(y)) ~ I(log(x364)) + I(log(x365)) + I(log(x357)) + I(log(x371)) +  ...', mid + 1, 625, 543);

    ctx.save();
    ctx.translate(29, (a.top + a.bottom) / 2);
    ctx.rotate(-Math.PI / 2);
    ctx.fillText('Residuals', 0, 0);
    ctx.restore();

    // ids of the largest residuals
    ctx.font = '14px ' + FONT;
    labelNames.forEach((name, i) => {
      const px = xs.getPixelForValue(labelFitted[i]);
      const py = ys.getPixelForValue(labelResid[i]) + 4;
      if (labelSide[i] === 'right') {
        ctx.textAlign = 'left';
        ctx.fillText(name, px + 5, py);
      } else {
        ctx.textAlign = 'right';
        ctx.fillText(name, px - 6, py);
      }
    });
    ctx.restore();
  }
};

const fixTicks = (list) => (scale) => { scale.ticks = list.map(v => ({ value: v })); };

new Chart(document.getElementById('chart'), {
  type: 'scatter',
  data: {
    datasets: [
      {
        label: 'smoother',
        data: smoother,
        showLine: true,
        borderColor: '#ff0000',
        borderWidth: 1.8,
        pointRadius: 0,
        fill: false
      },
      {
        label: 'residuals',
        data: allPoints,
        pointStyle: 'circle',
        pointRadius: 3.4,
        pointBorderWidth: 1.25,
        borderColor: '#000',
        backgroundColor: 'rgba(0,0,0,0)',
        showLine: false
      }
    ]
  },
  options: {
    responsive: false,
    animation: false,
    devicePixelRatio: 1,
    events: [],
    layout: { autoPadding: false, padding: { left: 0, top: 96, right: 39, bottom: 0 } },
    plugins: { legend: { display: false }, tooltip: { enabled: false }, title: { display: false } },
    scales: {
      x: {
        type: 'linear',
        min: xRange[0],
        max: xRange[1],
        afterBuildTicks: fixTicks(xTicks),
        afterFit: (s) => { s.height = 117; },
        ticks: { display: false },
        grid: { drawOnChartArea: false, drawTicks: true, tickLength: 10, tickColor: '#000', tickWidth: 1 },
        border: { display: true, color: '#000', width: 1 }
      },
      y: {
        type: 'linear',
        min: yRange[0],
        max: yRange[1],
        afterBuildTicks: fixTicks(yTicks),
        afterFit: (s) => { s.width = 100; },
        ticks: { display: false },
        grid: { drawOnChartArea: false, drawTicks: true, tickLength: 10, tickColor: '#000', tickWidth: 1 },
        border: { display: true, color: '#000', width: 1 }
      }
    }
  },
  plugins: [rPlot]
});
</script>
</body>
</html>
